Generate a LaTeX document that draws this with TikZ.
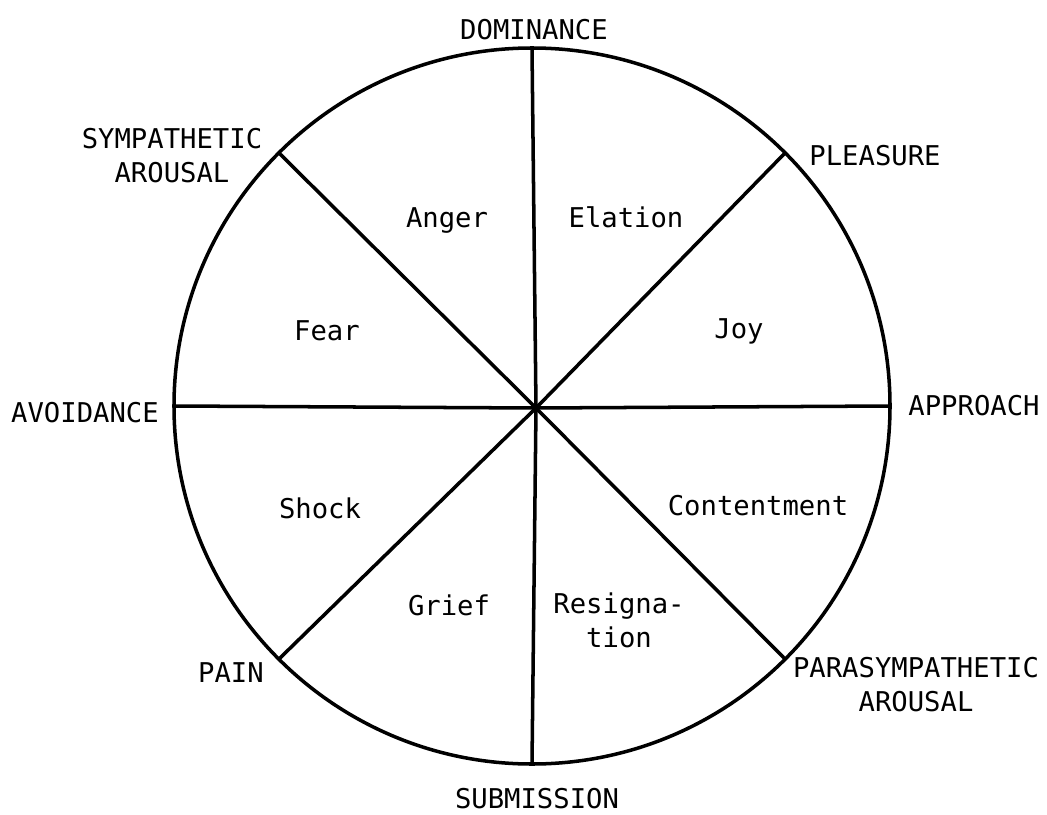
\documentclass[tikz,border=0pt]{standalone}
\usepackage{fontspec}
\setmonofont{DejaVu Sans Mono}
\usepackage{tikz}
\usetikzlibrary{positioning, calc}

\begin{document}
\begin{tikzpicture}[
    axis/.style={font=\ttfamily\fontsize{15.5}{19.3}\selectfont, align=center, inner sep=0pt},
    emotion/.style={font=\ttfamily\fontsize{15.5}{19.3}\selectfont, align=center, inner sep=0pt},
    spoke/.style={line width=2pt, black},
    rim/.style={line width=2pt, black}
]
\useasboundingbox (-10.72,-8.12) rectangle (10.22,8.16);
\coordinate (O) at (0,0);
\coordinate (C) at (-0.08,0.04);
\draw[rim] (C) circle (7.16);
\foreach \a in {0,45,...,315} {
    \coordinate (E\a) at ($(C)+(\a:7.16)$);
    \draw[spoke] (O) -- (E\a);
}
% outer labels
\node[axis, anchor=base] (dom)  at (-0.04,7.36)  {DOMINANCE};
\node[axis] (sym)  at (-7.28,5.05)  {SYMPATHETIC\\AROUSAL};
\node[axis, anchor=base] (plea) at (6.78,4.84)   {PLEASURE};
\node[axis, anchor=base] (avoi) at (-9.02,-0.28) {AVOIDANCE};
\node[axis, anchor=base] (appr) at (8.76,-0.14)  {APPROACH};
\node[axis, anchor=base] (pain) at (-6.10,-5.48) {PAIN};
\node[axis] (para) at (7.60,-5.53)  {PARASYMPATHETIC\\AROUSAL};
\node[axis, anchor=base] (subm) at (0.02,-8.00)  {SUBMISSION};
% sectors
\node[emotion, anchor=base] (anger) at (-1.78,3.60)  {Anger};
\node[emotion, anchor=base] (elat)  at (1.80,3.62)   {Elation};
\node[emotion, anchor=base] (fear)  at (-4.18,1.36)  {Fear};
\node[emotion, anchor=base] (joy)   at (4.06,1.40)   {Joy};
\node[emotion, anchor=base] (shock) at (-4.32,-2.20) {Shock};
\node[emotion, anchor=base] (cont)  at (4.44,-2.14)  {Contentment};
\node[emotion, anchor=base] (grief) at (-1.74,-4.14) {Grief};
\node[emotion] (resig) at (1.66,-4.24)  {Resigna-\\tion};
\end{tikzpicture}
\end{document}
